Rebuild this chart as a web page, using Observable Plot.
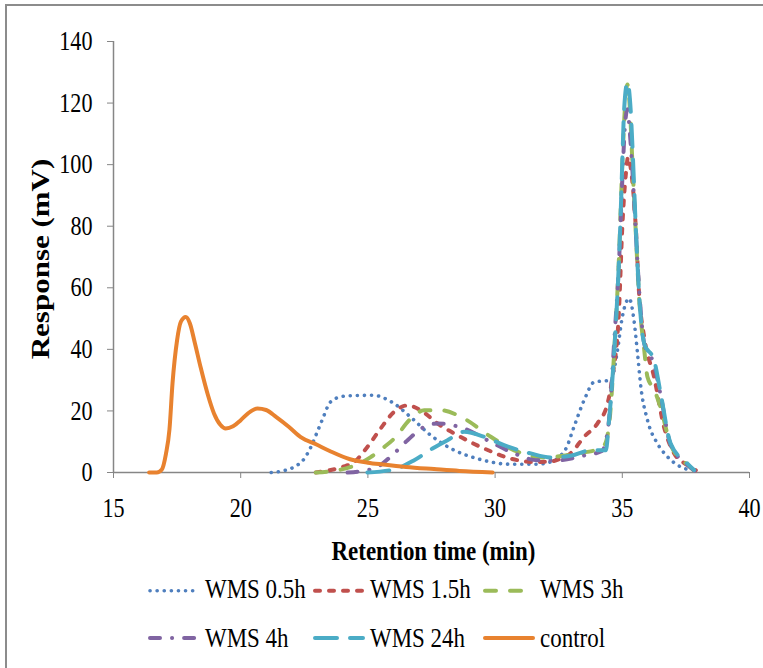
<!DOCTYPE html>
<html><head><meta charset="utf-8">
<script src="https://cdn.jsdelivr.net/npm/d3@7"></script>
<script src="https://cdn.jsdelivr.net/npm/@observablehq/plot@0.6"></script>
<style>
html,body{margin:0;padding:0;background:#fff;}
#wrap{position:relative;width:763px;height:668px;overflow:hidden;background:#fff;}
#frame{position:absolute;left:5px;top:4px;width:800px;height:700px;border-left:2px solid #8c8c8c;border-top:2px solid #8c8c8c;pointer-events:none;}
svg{display:block;}
</style></head><body>
<div id="wrap"><div id="chart"></div><div id="frame"></div></div>
<script>
// ---- data (retention time [min], response [mV]) ----
const xTicks = [15, 20, 25, 30, 35, 40];
const yTicks = [0, 20, 40, 60, 80, 100, 120, 140];
const seriesNames = ["WMS 0.5h", "WMS 1.5h", "WMS 3h", "WMS 4h", "WMS 24h", "control"];

const wms05 = [[21.2,0],[21.7,0.6],[22.1,1.8],[22.5,4.5],[22.76,8.3],[23.0,13],[23.2,17],[23.54,23],[24.07,24.8],[24.6,25],[25.24,25.1],[25.6,24.3],[26.03,22.4],[26.68,18],[27.47,12.1],[28.26,7.8],[29.3,4.5],[30.6,2.7],[31.67,2.7],[32.2,3.5],[32.58,5.5],[32.8,8],[33.1,14.8],[33.5,23.5],[33.9,29.4],[34.55,30],[34.81,39.7],[35.0,50.5],[35.27,56.5],[35.46,49.4],[35.6,38.6],[35.73,27.8],[35.99,17],[36.38,9.4],[36.78,5.1],[37.17,2.4],[37.7,0.7]];
const wms15 = [[22.95,0],[23.54,0.8],[24.0,1.8],[24.46,3.4],[24.98,8.3],[25.5,14.3],[26.03,19.7],[26.56,21.8],[27.08,20.2],[27.74,15.9],[28.52,12.1],[29.57,7.8],[30.62,4.5],[31.53,3.4],[32.2,3.6],[32.58,4.5],[33.0,6.5],[33.5,11.6],[34.02,15.9],[34.42,22.4],[34.61,31],[34.87,52.7],[35.0,79.7],[35.14,97],[35.23,102.5],[35.33,99],[35.53,79.7],[35.66,58],[35.86,44],[36.25,31],[36.64,14.8],[37.04,6.2],[37.56,2.4],[37.89,0.7]];
const wms3 = [[22.95,0],[23.6,0.5],[24.33,1.8],[25.11,5],[25.6,8],[26.03,11],[26.69,17.5],[27.21,20.2],[27.87,20.2],[28.78,17.5],[29.83,11.6],[30.75,7.2],[31.93,4.9],[32.85,5.6],[33.5,6.5],[34.0,7.5],[34.3,9],[34.5,17],[34.7,42],[34.87,70],[35.0,100],[35.1,118],[35.2,126],[35.3,118],[35.4,100],[35.53,78],[35.66,57],[35.86,40],[35.99,31],[36.25,27],[36.51,21],[36.9,9],[37.56,2.5],[37.85,0.5]];
const wms4 = [[24.2,0],[25.24,1.3],[26.03,6.2],[26.56,10.5],[27.21,14.8],[27.74,15.9],[28.78,14.3],[29.83,9.9],[30.62,6.7],[31.67,4],[32.5,4],[33.5,5.5],[34.2,7],[34.45,15],[34.7,45],[34.87,68],[35.0,95],[35.1,112],[35.2,118],[35.3,110],[35.42,95],[35.55,75],[35.7,55],[35.86,42],[36.25,35],[36.51,25],[36.9,9],[37.56,2.5],[37.85,0.5]];
const wms24 = [[24.98,0],[26.03,1],[26.82,4],[27.54,7.8],[28.13,10.5],[28.78,13.2],[29.57,11.6],[30.35,8.9],[31.4,6.2],[32.19,4.9],[33.0,5.5],[33.76,7.2],[34.35,7.2],[34.48,17],[34.74,47.3],[34.87,69],[34.94,85],[35.0,101],[35.07,117.6],[35.2,126.7],[35.33,117.6],[35.4,105.7],[35.53,79.7],[35.66,58],[35.86,41.9],[36.25,36.5],[36.51,25.6],[36.9,9.4],[37.56,2.9],[37.82,0.8]];
const control = [[16.4,0],[16.7,0],[16.9,1],[17.06,6],[17.2,14],[17.32,29],[17.5,43],[17.65,49],[17.84,50.5],[18.0,48.5],[18.2,42],[18.43,34],[18.7,25.5],[18.95,19.2],[19.2,15.5],[19.41,14.3],[19.7,15],[20.0,17],[20.3,19.3],[20.66,20.8],[21.0,20.3],[21.4,18],[21.9,14.8],[22.36,11.5],[23.0,9],[23.5,7],[24.3,4.3],[25.0,3.2],[25.6,2.6],[26.5,1.8],[27.6,1.1],[28.6,0.5],[29.9,0]];

// ---- styles ----
const seriesData = [wms05, wms15, wms3, wms4, wms24, control];
const seriesColors = ["#4F7FBE", "#C0504D", "#9BBB59", "#8064A2", "#4BACC6", "#E8822F"];
const seriesDash = ["0.1 7", "5 9", "11 14", "10 12 0.1 12", "22 13", null];
const seriesWidth = [3.6, 4, 4, 4, 4, 4];
const axisGray = "#868686";
const FONT = "'Liberation Serif','Times New Roman',serif";

const W = 763, H = 572;
const lineMarks = seriesData.map((pts, i) => Plot.line(pts, {
  x: d => d[0], y: d => d[1],
  stroke: seriesColors[i], strokeWidth: seriesWidth[i],
  strokeDasharray: seriesDash[i], strokeLinecap: "round", strokeLinejoin: "round",
  curve: "monotone-x"
}));

const plot = Plot.plot({
  width: W, height: H,
  marginLeft: 113, marginRight: 14, marginTop: 41, marginBottom: H - 472,
  style: {fontFamily: FONT, fontSize: "27px", color: "#000", background: "#fff", overflow: "visible"},
  x: {domain: [15, 40]},
  y: {domain: [0, 140]},
  marks: [
    Plot.axisX({ticks: xTicks, tickSize: 6, tickPadding: 19, stroke: axisGray, fill: "#000", label: null, fontSize: 27}),
    Plot.axisY({ticks: yTicks, tickSize: 6, tickPadding: 15, stroke: axisGray, fill: "#000", label: null, fontSize: 27}),
    Plot.ruleY([0], {stroke: axisGray, strokeWidth: 1.5}),
    Plot.ruleX([15], {stroke: axisGray, strokeWidth: 1.5}),
    ...lineMarks,
    Plot.text(["Retention time (min)"], {frameAnchor: "bottom", dy: 79, dx: 2, fontSize: 28, fontWeight: "bold", fill: "#000", lineAnchor: "middle", textAnchor: "middle"}),
    Plot.text(["Response (mV)"], {frameAnchor: "left", rotate: -90, dx: -73, dy: 2, fontSize: 31, fontWeight: "bold", fill: "#000", lineAnchor: "middle", textAnchor: "middle"})
  ]
});
const chart = document.getElementById("chart");
chart.appendChild(plot);

// ---- legend below the plot ----
const legend = d3.create("svg").attr("width", W).attr("height", 668 - H)
  .style("font-family", FONT).style("font-size", "28px").style("overflow", "visible");
const colX = [148, 313, 483];
const rowLineY = [18.7, 66];
const rowTextY = [26, 75];
seriesNames.forEach((name, i) => {
  const r = Math.floor(i / 3), c = i % 3;
  const x0 = colX[c];
  legend.append("line")
    .attr("x1", x0 + 2).attr("x2", x0 + 50)
    .attr("y1", rowLineY[r]).attr("y2", rowLineY[r])
    .attr("stroke", seriesColors[i]).attr("stroke-width", seriesWidth[i])
    .attr("stroke-dasharray", seriesDash[i]).attr("stroke-linecap", "round");
  legend.append("text").attr("x", x0 + 57).attr("y", rowTextY[r])
    .attr("fill", "#000").text(name);
});
chart.appendChild(legend.node());

// horizontally condense text (reference glyphs are narrow)
function squeeze(svg, k) {
  svg.querySelectorAll("text").forEach(el => {
    const a = getComputedStyle(el).textAnchor;
    const b = el.getBoundingClientRect();
    const sx = a === "end" ? b.right : a === "middle" ? (b.left + b.right) / 2 : b.left;
    const g = document.createElementNS("http://www.w3.org/2000/svg", "g");
    el.parentNode.insertBefore(g, el);
    g.appendChild(el);
    const m = g.getScreenCTM().inverse();
    const p = new DOMPoint(sx, b.top).matrixTransform(m);
    g.setAttribute("transform", `translate(${p.x},0) scale(${k},1) translate(${-p.x},0)`);
  });
}
squeeze(plot, 0.82);
squeeze(legend.node(), 0.82);
</script>
</body></html>
